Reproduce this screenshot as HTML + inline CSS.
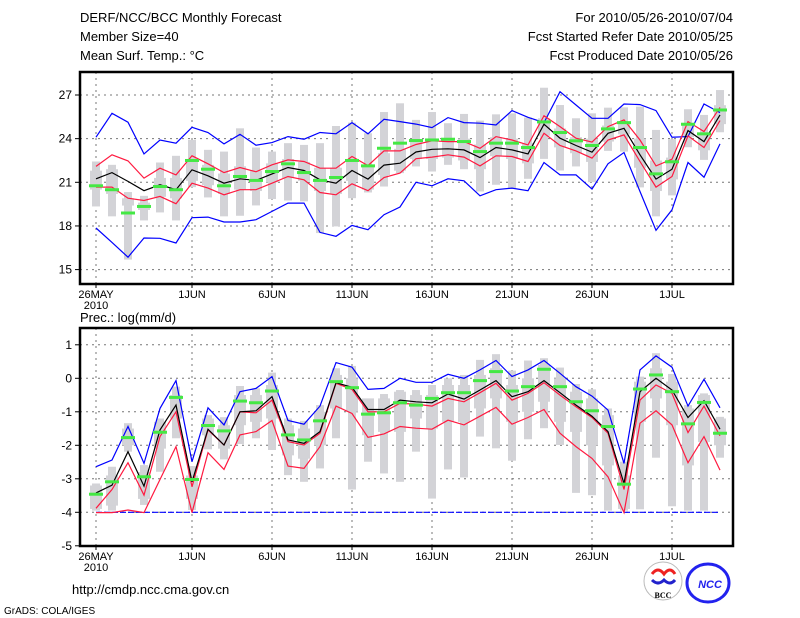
<!DOCTYPE html>
<html><head><meta charset="utf-8"><style>
html,body{margin:0;padding:0;background:#fff;}
svg{display:block;font-family:"Liberation Sans",sans-serif;}
</style></head><body>
<svg id="chart" width="800" height="618" viewBox="0 0 800 618" xmlns="http://www.w3.org/2000/svg">
<g font-size="13" fill="#000">
<text x="80" y="22">DERF/NCC/BCC Monthly Forecast</text>
<text x="80" y="41">Member Size=40</text>
<text x="80" y="60">Mean Surf. Temp.: °C</text>
<text x="733" y="22" text-anchor="end">For 2010/05/26-2010/07/04</text>
<text x="733" y="41" text-anchor="end">Fcst Started Refer Date 2010/05/25</text>
<text x="733" y="60" text-anchor="end">Fcst Produced Date 2010/05/26</text>
<text x="80" y="322">Prec.: log(mm/d)</text>
<text x="72" y="594">http://cmdp.ncc.cma.gov.cn</text>
<text x="4" y="614" font-size="10">GrADS: COLA/IGES</text>
</g>
<g>
<circle cx="663" cy="581" r="19" fill="#fff" stroke="#bbb"/>
<path d="M652 574 q6 -8 12 0 q6 -8 11 0" stroke="#e22" stroke-width="3" fill="none"/>
<path d="M652 580 q6 6 12 0 q6 6 11 0" stroke="#22c" stroke-width="3" fill="none"/>
<text x="663" y="598" font-size="8" text-anchor="middle" font-family="Liberation Serif,serif" font-weight="bold">BCC</text>
<ellipse cx="708" cy="583" rx="21" ry="19" fill="#fff" stroke="#22e" stroke-width="3"/>
<text x="710" y="588" font-size="11" text-anchor="middle" fill="#22e" font-style="italic" font-weight="bold">NCC</text>
</g>
<g id="top"></g>
<g id="bot"></g>
</svg>
<script>
// ---------- Data ----------
const dayLabels = ["26MAY","1JUN","6JUN","11JUN","16JUN","21JUN","26JUN","1JUL"];
const dayLabelIdx = [0,6,11,16,21,26,31,36];
const tTicks = [15,18,21,24,27];
const pTicks = [-5,-4,-3,-2,-1,0,1];

const tBlueUp = [24.1,25.74,25.13,22.95,23.91,23.69,24.78,24.42,23.64,24.3,23.55,23.73,24.14,23.96,24.42,24.33,25.1,24.33,25.33,25.17,25.0,24.76,25.45,25.1,25.06,24.94,25.93,25.47,25.1,27.23,26.31,25.4,25.4,26.38,26.34,25.93,24.1,24.14,26.38,25.79,27.2].slice(0,40);
const tBlueLo = [17.86,16.87,15.85,17.17,17.15,16.83,18.57,18.61,18.27,18.27,18.43,19.0,19.57,19.57,17.56,17.29,18.04,17.74,18.77,19.3,21.0,20.76,21.24,21.1,20.07,20.49,20.6,20.42,22.36,21.51,21.51,20.53,22.27,23.05,20.37,17.7,19.11,22.36,21.35,23.64];
const tRedUp = [22.09,22.89,22.47,21.29,21.97,21.51,22.82,22.27,21.67,22.02,21.72,22.2,22.54,22.43,21.97,21.97,22.77,22.15,23.16,23.16,23.6,23.85,23.8,23.8,23.34,24.14,23.91,23.57,25.58,24.83,24.03,23.76,24.83,25.29,23.91,22.13,22.59,25.17,24.49,26.15];
const tMean = [21.24,21.67,21.06,20.42,20.83,20.49,21.86,21.45,20.94,21.24,21.13,21.58,22.02,21.81,21.17,20.94,21.81,21.22,22.18,22.31,23.08,23.27,23.3,23.23,22.7,23.39,23.23,22.95,24.99,24.03,23.53,23.07,24.37,24.71,22.89,21.22,21.9,24.55,23.8,25.63];
const tRedLo = [20.67,20.67,19.91,19.75,20.03,19.53,20.94,20.6,20.14,20.49,20.49,20.94,21.4,21.17,20.3,20.14,20.9,20.42,21.33,21.63,22.62,22.73,22.89,22.73,22.13,22.82,22.77,22.43,24.37,23.53,23.16,22.66,23.91,24.26,22.43,20.67,21.4,24.19,23.39,25.24];
const tObs = [20.76,20.49,18.89,19.34,20.71,20.49,22.5,21.9,20.76,21.4,21.13,21.74,22.27,21.67,21.13,21.33,22.5,22.13,23.34,23.69,23.87,23.91,23.96,23.8,23.11,23.69,23.69,23.39,25.15,24.42,23.85,23.53,24.67,25.1,23.39,21.58,22.41,24.99,24.33,25.97];
const tMax = [22.43,22.2,20.33,20.07,22.36,22.82,23.91,23.23,23.11,24.71,23.39,23.11,23.69,23.57,23.69,24.87,25.1,24.37,25.83,26.43,25.29,25.83,25.06,25.7,25.24,25.67,25.74,25.45,27.5,26.31,25.4,25.74,26.13,26.15,26.2,24.6,23.96,26.02,25.63,27.34];
const tQ3 = [21.8,21.9,19.9,19.6,21.3,21.3,22.6,22.2,21.6,22.1,21.8,22.3,22.6,22.4,22.0,22.0,22.6,22.1,23.0,23.3,23.9,24.0,23.9,24.0,23.6,24.1,24.0,23.7,25.4,24.7,24.1,24.0,24.9,25.1,24.0,22.5,22.7,25.0,24.4,26.3];
const tQ1 = [20.5,20.2,19.4,19.1,20.0,19.9,21.1,20.8,20.2,20.5,20.4,21.0,21.3,21.1,20.4,20.2,21.1,20.5,21.5,21.8,22.6,22.6,22.7,22.5,21.9,22.8,22.6,22.3,24.2,23.4,23.0,22.4,23.8,24.3,22.0,20.4,21.2,24.1,23.2,25.0];
const tMin = [19.34,18.66,15.69,18.38,18.93,18.38,20.67,19.96,18.66,18.7,19.41,19.85,19.75,19.69,17.51,17.97,19.91,20.3,20.71,21.63,22.09,21.74,22.2,21.9,20.37,20.83,20.6,21.24,22.61,21.81,22.09,21.01,23.16,23.11,20.65,18.66,20.1,23.41,22.54,24.44];

const pBlueUp = [-2.64,-2.44,-1.44,-2.54,-0.9,-0.07,-2.49,-0.88,-1.39,-0.4,-0.3,0.05,-1.26,-1.37,-0.83,0.47,0.33,-0.33,-0.3,0.0,-0.12,-0.12,0.12,0.0,0.25,0.53,0.05,0.25,0.53,0.15,-0.25,-0.53,-0.95,-2.54,0.25,0.67,0.33,-0.83,-0.03,-0.88];
const pBlueLo = [-4,-4,-4,-4,-4,-4,-4,-4,-4,-4,-4,-4,-4,-4,-4,-4,-4,-4,-4,-4,-4,-4,-4,-4,-4,-4,-4,-4,-4,-4,-4,-4,-4,-4,-4,-4,-4,-4,-4,-4];
const pRedUp = [-3.88,-3.32,-2.52,-3.49,-1.74,-1.0,-3.24,-1.54,-1.99,-1.0,-1.03,-0.65,-1.89,-1.99,-1.64,-0.15,-0.33,-1.0,-1.0,-0.75,-0.77,-0.83,-0.6,-0.7,-0.43,-0.15,-0.65,-0.45,-0.13,-0.5,-0.85,-1.17,-1.64,-3.32,-0.65,-0.2,-0.45,-1.62,-0.83,-1.72];
const pMean = [-3.42,-3.19,-2.19,-3.22,-1.54,-0.8,-3.09,-1.52,-1.99,-1.0,-0.97,-0.55,-1.84,-1.94,-1.59,-0.13,-0.27,-0.93,-0.93,-0.65,-0.7,-0.73,-0.47,-0.62,-0.35,-0.07,-0.55,-0.4,-0.07,-0.43,-0.8,-1.13,-1.59,-3.14,-0.4,0.0,-0.35,-1.17,-0.67,-1.52];
const pRedLo = [-4.01,-4.01,-3.93,-4.01,-3.02,-2.04,-4.01,-2.22,-2.72,-1.69,-1.59,-1.26,-2.62,-2.69,-2.04,-0.83,-1.05,-1.76,-1.66,-1.44,-1.49,-1.52,-1.25,-1.39,-1.13,-0.87,-1.37,-1.17,-0.93,-1.64,-2.04,-2.39,-2.94,-4.01,-1.34,-0.97,-1.39,-2.52,-1.74,-2.74];
const pObs = [-3.46,-3.09,-1.77,-2.94,-1.61,-0.57,-3.02,-1.41,-1.57,-0.68,-0.73,-0.38,-1.69,-1.84,-1.27,-0.1,-0.28,-1.07,-1.03,-0.73,-0.8,-0.6,-0.43,-0.43,-0.07,0.2,-0.38,-0.25,0.27,-0.25,-0.7,-0.97,-1.44,-3.16,-0.32,0.1,-0.4,-1.36,-0.72,-1.64];
const pMax = [-3.14,-2.64,-1.34,-2.59,-1.2,-0.25,-2.62,-1.1,-1.16,-0.23,-0.3,0.17,-1.2,-1.27,-0.8,0.3,0.37,-0.63,-0.47,-0.35,-0.35,-0.2,0.0,0.1,0.55,0.72,0.23,0.53,0.6,0.32,-0.17,-0.33,-0.9,-2.49,0.05,0.75,0.13,-0.8,-0.45,-1.15];
const pQ3 = [-3.2,-2.9,-1.5,-2.8,-1.3,-0.5,-2.9,-1.2,-1.4,-0.5,-0.5,-0.2,-1.4,-1.5,-1.0,0.1,0.0,-0.6,-0.6,-0.4,-0.5,-0.5,-0.2,-0.2,0.1,0.3,-0.2,0.0,0.4,0.0,-0.4,-0.6,-1.1,-2.9,-0.1,0.3,-0.1,-0.9,-0.5,-1.2];
const pQ1 = [-3.9,-3.8,-2.0,-3.6,-2.1,-1.2,-3.6,-1.7,-2.1,-1.4,-1.3,-1.2,-2.3,-2.4,-2.0,-0.9,-1.0,-1.7,-1.6,-1.6,-1.2,-1.5,-1.3,-1.3,-0.9,-0.6,-1.3,-1.0,-0.7,-1.3,-1.6,-2.0,-2.6,-3.9,-1.3,-0.6,-1.4,-2.6,-1.9,-2.0];
const pMin = [-3.95,-3.95,-2.19,-3.78,-2.79,-1.79,-3.93,-2.12,-2.42,-1.96,-1.79,-2.14,-2.89,-3.09,-2.69,-1.79,-3.32,-2.49,-2.84,-3.09,-2.19,-3.59,-2.72,-2.96,-1.74,-2.09,-2.46,-1.82,-1.49,-1.99,-3.42,-3.49,-3.95,-3.95,-3.91,-2.37,-3.82,-3.95,-3.95,-2.37];

// ---------- Drawing ----------
const NS = "http://www.w3.org/2000/svg";
function mk(parent, tag, attrs){ const e=document.createElementNS(NS,tag); for(const k in attrs) e.setAttribute(k,attrs[k]); parent.appendChild(e); return e; }
const xOf = i => 96 + 16*i;
const X0 = 80, X1 = 733;

function panel(g, name, top, bottom, yOf, ticks, gridTicks, series){
  const [bmax,bq3,bq1,bmin,blueUp,blueLo,redUp,redLo,mean,obs,blueLoDashed] = series;
  // gridlines
  gridTicks.forEach(v=>{
    const l=mk(g,'line',{x1:X0,x2:X1,y1:yOf(v),y2:yOf(v),stroke:'#777','stroke-dasharray':'2,4','stroke-width':1});
    
    
  });
  dayLabelIdx.forEach(i=>{
    const l=mk(g,'line',{x1:xOf(i),x2:xOf(i),y1:top,y2:bottom,stroke:'#777','stroke-dasharray':'2,4','stroke-width':1});
    
    
  });
  // boxes
  for(let i=0;i<40;i++){
    const w=mk(g,'rect',{x:xOf(i)-4,y:yOf(bmax[i]),width:8,height:yOf(bmin[i])-yOf(bmax[i]),fill:'#d3d3d7'});
    
    
    const b=mk(g,'rect',{x:xOf(i)-6,y:yOf(bq3[i]),width:12,height:Math.max(1,yOf(bq1[i])-yOf(bq3[i])),fill:'#d3d3d7'});
    
    
  }
  function line(arr,color,lname,dash){
    const d=arr.map((v,i)=>(i?'L':'M')+xOf(i)+' '+yOf(v).toFixed(1)).join(' ');
    const p=mk(g,'path',{d:d,stroke:color,'stroke-width':1.2,fill:'none'});
    if(dash) p.setAttribute('stroke-dasharray',dash);
    
    
  }
  line(blueUp,'#0000ff',name+'-blue-upper');
  line(blueLo,'#0000ff',name+'-blue-lower',blueLoDashed?'6,2':null);
  line(redUp,'#ff1a40',name+'-red-upper');
  line(redLo,'#ff1a40',name+'-red-lower');
  line(mean,'#000',name+'-ensemble-mean');
  for(let i=0;i<40;i++){
    const o=mk(g,'rect',{x:xOf(i)-7,y:yOf(obs[i])-1.5,width:14,height:3,fill:'#44e844'});
    
    
  }
  // frame
  const f=mk(g,'rect',{x:X0,y:top,width:X1-X0,height:bottom-top,fill:'none',stroke:'#000','stroke-width':2.5});
  
  
  ticks.forEach(v=>{
    mk(g,'line',{x1:X0-5,x2:X0,y1:yOf(v),y2:yOf(v),stroke:'#000'});
    const t=mk(g,'text',{x:X0-8,y:yOf(v)+4,'text-anchor':'end','font-size':12});
    t.textContent=String(v);
    
    
  });
  dayLabels.forEach((s,k)=>{
    const x=xOf(dayLabelIdx[k]);
    mk(g,'line',{x1:x,x2:x,y1:bottom,y2:bottom+4,stroke:'#000'});
    const t=mk(g,'text',{x:x,y:bottom+14,'text-anchor':'middle','font-size':11});
    t.textContent=s;
    
    
  });
  const yr=mk(g,'text',{x:xOf(0),y:bottom+25,'text-anchor':'middle','font-size':11});
  yr.textContent='2010';
  
  
}
const tY = v => 95 + (27-v)*14.55;
const pY = v => 378.3 - v*33.5;
const gt=document.getElementById('top');


panel(gt,'temp',72,284,tY,tTicks,tTicks,[tMax,tQ3,tQ1,tMin,tBlueUp,tBlueLo,tRedUp,tRedLo,tMean,tObs,false]);
const gb=document.getElementById('bot');


panel(gb,'precip',328,546,pY,pTicks,pTicks.slice(1),[pMax,pQ3,pQ1,pMin,pBlueUp,pBlueLo,pRedUp,pRedLo,pMean,pObs,true]);
</script>
</body></html>
